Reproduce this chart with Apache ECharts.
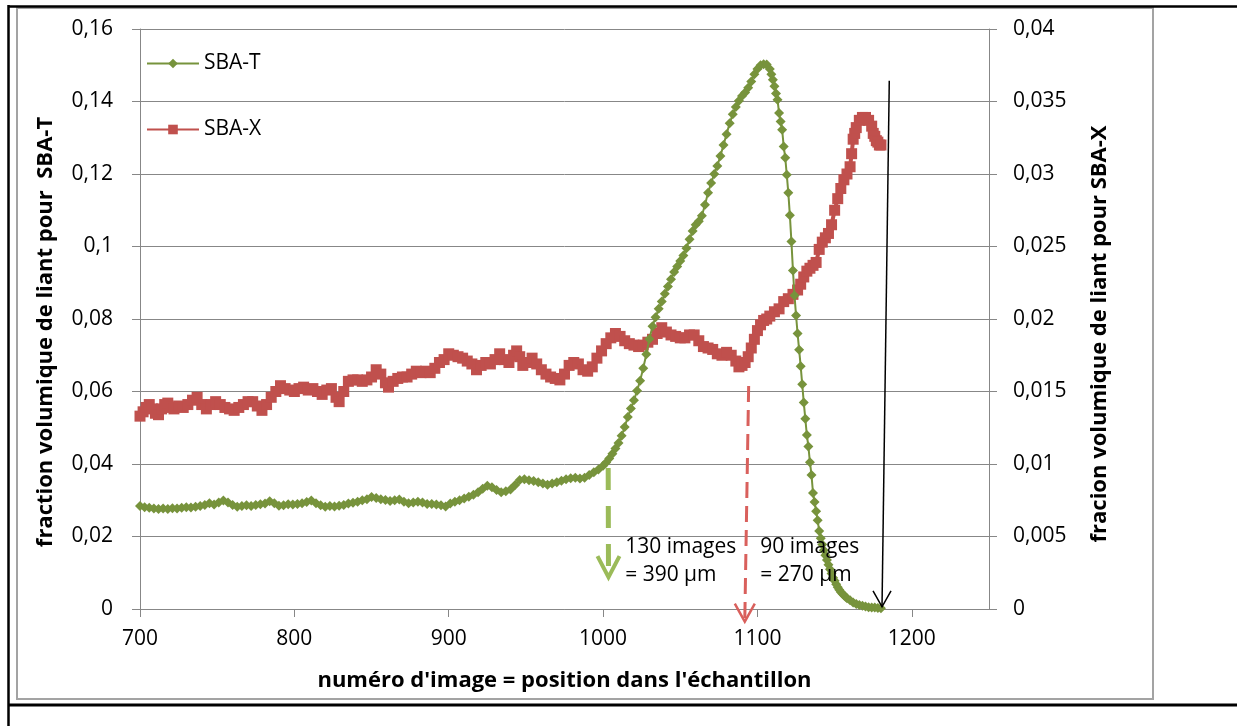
<!DOCTYPE html>
<html>
<head>
<meta charset="utf-8">
<script src="https://cdn.jsdelivr.net/npm/echarts@6/dist/echarts.min.js"></script>
<style>
html,body{margin:0;padding:0;background:#fff;}
#c{width:1237px;height:726px;}
</style>
</head>
<body>
<div id="c"></div>
<script>
// ---- data ----
const seriesNames = ['SBA-T', 'SBA-X'];
const xTickValues = [700, 800, 900, 1000, 1100, 1200];
const leftTicks = [0, 0.02, 0.04, 0.06, 0.08, 0.1, 0.12, 0.14, 0.16];
const rightTicks = [0, 0.005, 0.01, 0.015, 0.02, 0.025, 0.03, 0.035, 0.04];

const tX = [700,703,706,709,712,715,718,721,724,727,730,733,736,739,742,745,748,751,754,757,760,763,766,769,772,775,778,781,784,787,790,793,796,799,802,805,808,811,814,817,820,823,826,829,832,835,838,841,844,847,850,853,856,859,862,865,868,871,874,877,880,883,886,889,892,895,898,901,904,907,910,913,916,919,922,925,928,931,934,937,940,943,946,949,952,955,958,961,964,967,970,973,976,979,982,985,988,991,994,997,1000,
1002,1004,1006,1008,1010,1012,1014,1016,1018,1020,1022,1024,1026,1028,1030,1032,1034,1036,1038,1040,1042,1044,1046,1048,1050,1052,1054,1056,1058,1060,1062,1064,1066,1068,1070,1072,1074,1076,1078,1080,1082,1084,1086,1088,1090,1092,1094,1096,1098,1100,1102,1104,1106,1108,
1109,1110,1111,1112,1113,1114,1115,1116,1117,1118,1119,1120,1121,1122,1123,1124,1125,1126,1127,1128,1129,1130,1131,1132,1133,1134,1135,1136,1137,1138,1139,1140,1141,1142,1143,1144,1145,1146,1147,1148,1149,1150,1151,1152,1153,1154,1155,1156,1157,1158,1160,1162,1164,1166,1168,1170,1172,1174,1176,1178,1180];
const tY = [0.0284,0.0281,0.0279,0.0277,0.0276,0.0277,0.0276,0.0278,0.0277,0.0279,0.0281,0.0280,0.0282,0.0284,0.0287,0.0292,0.0288,0.0294,0.0299,0.0294,0.0287,0.0282,0.0284,0.0286,0.0284,0.0287,0.0289,0.0291,0.0297,0.0292,0.0285,0.0286,0.0289,0.0288,0.0290,0.0292,0.0295,0.0299,0.0292,0.0286,0.0282,0.0284,0.0283,0.0285,0.0287,0.0291,0.0293,0.0296,0.0300,0.0303,0.0309,0.0306,0.0303,0.0301,0.0298,0.0300,0.0302,0.0296,0.0292,0.0294,0.0296,0.0294,0.0290,0.0290,0.0288,0.0286,0.0283,0.0291,0.0296,0.0300,0.0305,0.0310,0.0315,0.0322,0.0332,0.0340,0.0336,0.0328,0.0322,0.0325,0.0330,0.0342,0.0356,0.0358,0.0355,0.0353,0.0350,0.0346,0.0343,0.0346,0.0350,0.0354,0.0358,0.0361,0.0362,0.0360,0.0362,0.0370,0.0377,0.0385,0.0395,
0.0404,0.0415,0.0428,0.0443,0.0458,0.0478,0.0502,0.0530,0.0553,0.0576,0.0602,0.0630,0.0664,0.0703,0.0745,0.0780,0.0805,0.0828,0.0848,0.0870,0.0890,0.0910,0.0930,0.0945,0.0960,0.0975,0.0995,0.1020,0.1043,0.1060,0.1070,0.1085,0.1115,0.1148,0.1175,0.1200,0.1222,0.1250,0.1280,0.1310,0.1340,0.1365,0.1385,0.1402,0.1415,0.1425,0.1438,0.1455,0.1475,0.1490,0.1500,0.1503,0.1502,0.1490,
0.1475,0.1460,0.1442,0.1422,0.1405,0.1368,0.1345,0.1322,0.1276,0.1245,0.1198,0.1148,0.1086,0.1014,0.0934,0.0865,0.0810,0.0760,0.0715,0.0670,0.0620,0.0570,0.0525,0.0480,0.0448,0.0405,0.0370,0.0320,0.0295,0.0270,0.0245,0.0215,0.0195,0.0178,0.0162,0.0148,0.0135,0.0122,0.0110,0.0098,0.0086,0.0078,0.0068,0.0060,0.0053,0.0047,0.0042,0.0038,0.0034,0.0030,0.0024,0.0018,0.0014,0.0011,0.0009,0.0007,0.0005,0.0004,0.0004,0.0003,0.0002];

const xX = [700,702,704,706,708,710,712,714,716,718,720,722,725,728,731,734,737,740,743,746,749,752,755,758,761,764,767,770,773,776,779,782,785,788,791,794,797,800,803,806,809,812,815,818,821,824,827,829,832,835,838,841,844,847,850,853,856,859,861,864,867,870,873,876,879,882,885,888,891,894,897,900,903,906,909,912,915,918,921,924,927,930,933,936,939,942,944,946,948,951,954,957,960,963,966,969,972,975,978,981,984,987,990,993,996,999,1002,1005,1008,1011,1014,1017,1020,1023,1026,1029,1032,1035,1038,1041,1044,1047,1050,1053,1056,1059,1062,1065,1068,1071,1074,1077,1080,1083,1086,1088,1090,1092,1094,1096,1098,1100,1102,1104,1106,1108,1111,1114,1117,1120,1123,1126,1128,1130,1132,1134,1136,1138,1140,1142,1144,1146,1148,1150,1152,1154,1156,1158,1160,1161,1162,1163,1164,1166,1168,1170,1172,1174,1175,1176,1177,1178,1179,1180];
const xY = [0.0133,0.0136,0.0139,0.0141,0.0138,0.0135,0.0134,0.0138,0.0141,0.0142,0.0139,0.0138,0.0140,0.0139,0.0141,0.0144,0.0146,0.0141,0.0138,0.0141,0.0143,0.0141,0.0139,0.0138,0.0137,0.0139,0.0141,0.0143,0.0143,0.0140,0.0137,0.0141,0.0146,0.0150,0.0154,0.0152,0.0151,0.0150,0.0152,0.0153,0.0151,0.0152,0.0150,0.0148,0.0151,0.0152,0.0146,0.0143,0.0150,0.0157,0.0158,0.0158,0.0157,0.0158,0.0160,0.0165,0.0162,0.0156,0.0153,0.0157,0.0159,0.0160,0.0160,0.0162,0.0164,0.0163,0.0164,0.0163,0.0166,0.0170,0.0172,0.0176,0.0175,0.0174,0.0173,0.0171,0.0169,0.0165,0.0168,0.0170,0.0169,0.0172,0.0176,0.0172,0.0170,0.0175,0.0178,0.0174,0.0168,0.0170,0.0173,0.0169,0.0165,0.0162,0.0160,0.0159,0.0158,0.0162,0.0168,0.0170,0.0169,0.0165,0.0164,0.0167,0.0173,0.0178,0.0183,0.0187,0.0190,0.0188,0.0185,0.0183,0.0182,0.0181,0.0182,0.0184,0.0186,0.0190,0.0194,0.0191,0.0189,0.0188,0.0187,0.0187,0.0189,0.0189,0.0185,0.0181,0.0180,0.0179,0.0176,0.0175,0.0177,0.0175,0.0171,0.0167,0.0168,0.0170,0.0174,0.0180,0.0186,0.0192,0.0196,0.0199,0.0200,0.0202,0.0205,0.0207,0.0212,0.0214,0.0217,0.0220,0.0224,0.0229,0.0233,0.0235,0.0237,0.0239,0.0248,0.0253,0.0256,0.0259,0.0265,0.0275,0.0283,0.0290,0.0296,0.0300,0.0305,0.0314,0.0324,0.0328,0.0332,0.0337,0.0339,0.0339,0.0337,0.0333,0.0328,0.0326,0.0323,0.0322,0.0320,0.0320];

// annotations (data units, left axis)
const noteTexts = [['130 images', '= 390 µm'], ['90 images', '= 270 µm']];
const xTitle = "numéro d'image = position dans l'échantillon";
const yLeftTitle = 'fraction volumique de liant pour  SBA-T';
const yRightTitle = 'fracion volumique de liant pour SBA-X';

const FONT = '"Open Sans", "DejaVu Sans", sans-serif';
const GRID_C = '#878787';
const fmt = v => String(+(+v).toFixed(4)).replace('.', ',');
const fmtX = v => String(Math.round(v));

const chart = echarts.init(document.getElementById('c'), null, {renderer: 'canvas'});
const option = {
  animation: false,
  backgroundColor: '#ffffff',
  textStyle: {fontFamily: FONT},
  grid: {left: 140, right: 248, top: 29, bottom: 117, containLabel: false},
  legend: {
    data: seriesNames, orient: 'vertical', left: 141, top: 48,
    itemWidth: 52, itemHeight: 12, itemGap: 45,
    textStyle: {fontFamily: FONT, fontSize: 21, color: '#000'}
  },
  xAxis: {
    type: 'value', min: 700, max: 1250, interval: 100,
    axisLine: {show: true, lineStyle: {color: GRID_C, width: 1}},
    axisTick: {show: true, length: 8, lineStyle: {color: GRID_C}, customValues: xTickValues},
    axisLabel: {fontFamily: FONT, fontSize: 21, color: '#000', margin: 20, formatter: fmtX, customValues: xTickValues},
    splitLine: {show: false},
    name: xTitle, nameLocation: 'middle', nameGap: 61,
    nameTextStyle: {fontFamily: FONT, fontSize: 22, fontWeight: 'bold', color: '#000'}
  },
  yAxis: [{
    type: 'value', min: 0, max: 0.16, interval: 0.02, position: 'left',
    axisLine: {show: true, lineStyle: {color: GRID_C, width: 1}},
    axisTick: {show: true, length: 8, lineStyle: {color: GRID_C}, customValues: leftTicks},
    axisLabel: {fontFamily: FONT, fontSize: 21, color: '#000', margin: 27, formatter: fmt, customValues: leftTicks},
    splitLine: {show: true, lineStyle: {color: GRID_C, width: 1}}
  }, {
    type: 'value', min: 0, max: 0.04, interval: 0.005, position: 'right',
    axisLine: {show: true, lineStyle: {color: GRID_C, width: 1}},
    axisTick: {show: true, length: 8, lineStyle: {color: GRID_C}, customValues: rightTicks},
    axisLabel: {fontFamily: FONT, fontSize: 21, color: '#000', margin: 24, formatter: fmt, customValues: rightTicks},
    splitLine: {show: false}
  }],
  series: [{
    name: seriesNames[0], type: 'line', yAxisIndex: 0, z: 4,
    data: tX.map((x, i) => [x, tY[i]]),
    symbol: 'diamond', symbolSize: 10, showSymbol: true,
    itemStyle: {color: '#77933c'},
    lineStyle: {color: '#77933c', width: 2}
  }, {
    name: seriesNames[1], type: 'line', yAxisIndex: 1, z: 3,
    data: xX.map((x, i) => [x, xY[i]]),
    symbol: 'rect', symbolSize: 11, showSymbol: true,
    itemStyle: {color: '#c0504d'},
    lineStyle: {color: '#c0504d', width: 4}
  }]
};
chart.setOption(option);

// annotation anchors in data units (x, left-axis value)
const greenArrow = {top: [1003.3, 0.0389], tip: [1003.5, 0.0088]};
const redArrow = {top: [1094.3, 0.0615], tip: [1091.8, -0.0035]};
const blackArrow = {top: [1185.4, 0.1457], tip: [1180.7, 0.0006]};
const note1 = {pos: [1014.3, 0.0171], pos2: [1014.3, 0.0094]};
const note2 = {pos: [1101.8, 0.0171], pos2: [1101.8, 0.0094]};

const P = v => chart.convertToPixel({xAxisIndex: 0, yAxisIndex: 0}, v);
function vHead(tip, hw, h, color, lw) {
  return {type: 'polyline', z: 20, shape: {points: [[tip[0] - hw, tip[1] - h], tip, [tip[0] + hw, tip[1] - h]]},
    style: {stroke: color, lineWidth: lw, fill: null}};
}
const g = [];
// frame
g.push({type: 'rect', z: 1, shape: {x: 17, y: 8, width: 1136, height: 691}, style: {stroke: '#a3a3a3', lineWidth: 2, fill: null}});
g.push({type: 'line', z: 2, shape: {x1: 8, y1: 6.5, x2: 1237, y2: 6.5}, style: {stroke: '#000', lineWidth: 2.5}});
g.push({type: 'line', z: 2, shape: {x1: 8.5, y1: 5, x2: 8.5, y2: 726}, style: {stroke: '#000', lineWidth: 2.5}});
g.push({type: 'line', z: 2, shape: {x1: 8, y1: 705, x2: 1237, y2: 705}, style: {stroke: '#000', lineWidth: 3}});
// y titles
g.push({type: 'text', z: 5, x: 46, y: 332, rotation: Math.PI / 2,
  style: {text: yLeftTitle, font: 'bold 22px ' + FONT, fill: '#000', align: 'center', verticalAlign: 'middle'}});
g.push({type: 'text', z: 5, x: 1100, y: 334, rotation: Math.PI / 2,
  style: {text: yRightTitle, font: 'bold 22px ' + FONT, fill: '#000', align: 'center', verticalAlign: 'middle'}});
// green arrow
let a = P(greenArrow.top), b = P(greenArrow.tip);
g.push({type: 'line', z: 20, shape: {x1: a[0], y1: a[1], x2: b[0], y2: b[1] - 2}, style: {stroke: '#9bbb59', lineWidth: 5, lineDash: [22, 16]}});
g.push(vHead(b, 11, 21, '#9bbb59', 4));
// red arrow
a = P(redArrow.top); b = P(redArrow.tip);
g.push({type: 'line', z: 20, shape: {x1: a[0], y1: a[1], x2: b[0], y2: b[1] - 2}, style: {stroke: '#d9605c', lineWidth: 3, lineDash: [16, 8]}});
g.push(vHead(b, 10, 18, '#d9605c', 2.5));
// black arrow
a = P(blackArrow.top); b = P(blackArrow.tip);
g.push({type: 'line', z: 20, shape: {x1: a[0], y1: a[1], x2: b[0], y2: b[1]}, style: {stroke: '#000', lineWidth: 1.5}});
g.push(vHead(b, 9, 16, '#000', 1.5));
// notes
[[note1, noteTexts[0]], [note2, noteTexts[1]]].forEach(([n, t]) => {
  const p1 = P(n.pos), p2 = P(n.pos2);
  g.push({type: 'text', z: 21, x: p1[0], y: p1[1], style: {text: t[0], font: '21px ' + FONT, fill: '#000', align: 'left', verticalAlign: 'middle'}});
  g.push({type: 'text', z: 21, x: p2[0], y: p2[1], style: {text: t[1], font: '21px ' + FONT, fill: '#000', align: 'left', verticalAlign: 'middle'}});
});
chart.setOption({graphic: {elements: g}});
</script>
</body>
</html>
